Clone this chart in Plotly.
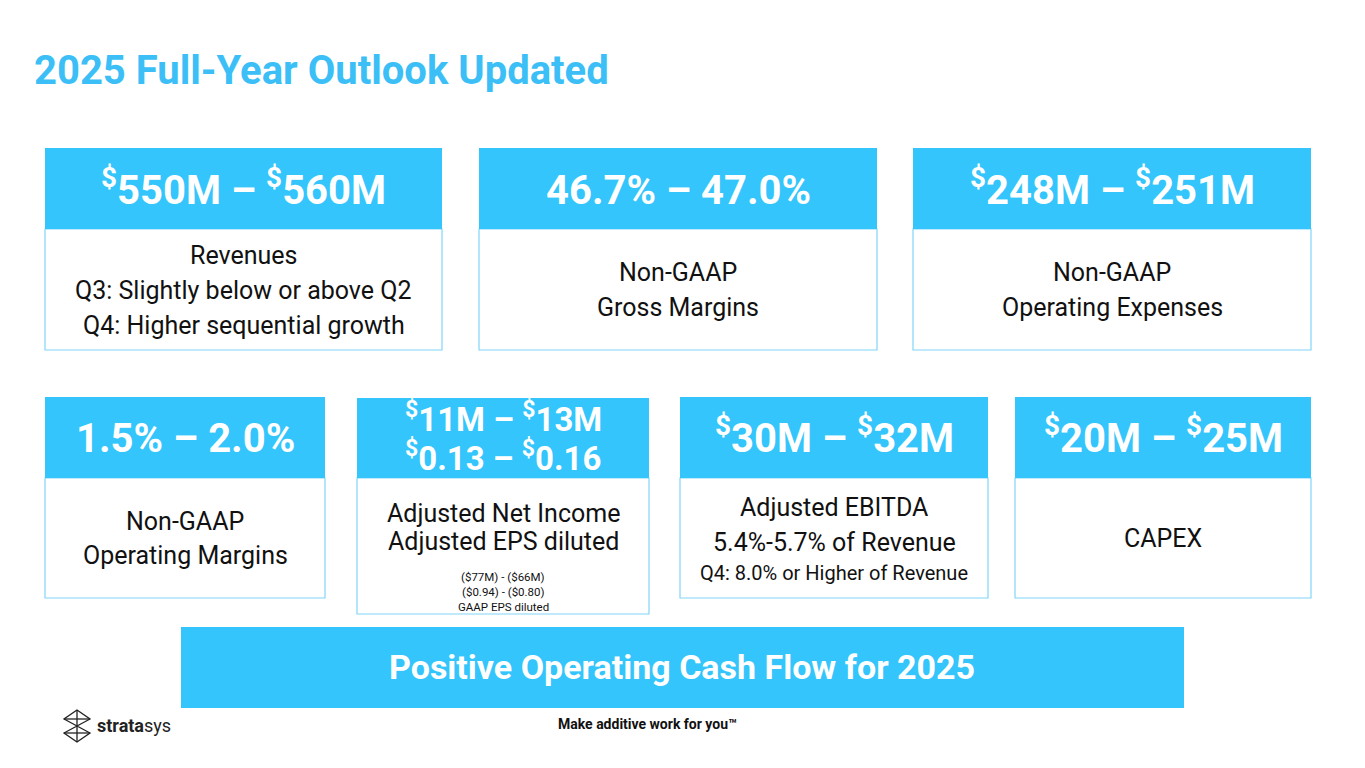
import plotly.graph_objects as go

# slide text
title_text = "2025 Full-Year Outlook Updated"
headlines = [
    ["$550M – $560M"],
    ["46.7% – 47.0%"],
    ["$248M – $251M"],
    ["1.5% – 2.0%"],
    ["$11M – $13M", "$0.13 – $0.16"],
    ["$30M – $32M"],
    ["$20M – $25M"],
]
body_lines = [
    ["Revenues", "Q3: Slightly below or above Q2", "Q4: Higher sequential growth"],
    ["Non-GAAP", "Gross Margins"],
    ["Non-GAAP", "Operating Expenses"],
    ["Non-GAAP", "Operating Margins"],
    ["Adjusted Net Income", "Adjusted EPS diluted",
     "($77M) - ($66M)", "($0.94) - ($0.80)", "GAAP EPS diluted"],
    ["Adjusted EBITDA", "5.4%-5.7% of Revenue", "Q4: 8.0% or Higher of Revenue"],
    ["CAPEX"],
]
banner_text = "Positive Operating Cash Flow for 2025"
tagline = "Make additive work for you™"
brand = ["strata", "sys"]

# geometry (pixels on the 1365x768 slide)
card_x0 = [45, 479, 913, 45, 357, 680, 1015]
card_x1 = [442, 877, 1311, 325, 649, 988, 1311]
head_top = [148, 148, 148, 397, 398, 397, 397]
head_bot = [229, 229, 229, 478, 478, 478, 478]
body_bot = [350, 350, 350, 598, 614, 598, 598]
head_y = [[187], [190], [187], [438], [417, 456], [435], [435]]
head_size = [40, 40, 40, 40, 33, 40, 40]
body_y = [
    [255, 290, 325],
    [272, 307],
    [272, 307],
    [521, 555],
    [513, 541, 577, 592, 607],
    [507, 542, 573],
    [538],
]
body_size = [
    [25, 25, 25],
    [25, 25],
    [25, 25],
    [25, 25],
    [25, 25, 11.5, 11.5, 11.5],
    [25, 25, 20],
    [25],
]

BLUE = "#33C5FC"
TITLE_BLUE = "#3BBFF6"
FONT = "Roboto"
OFF = 8  # page body margin around the plot div


def dollar_sup(s):
    return s.replace("$", "<sup>$</sup>")


fig = go.Figure()
shapes = []
annotations = []

annotations.append(dict(
    x=32, y=70, text="<b>" + title_text + "</b>", showarrow=False,
    xanchor="left", yanchor="middle",
    font=dict(family=FONT, size=40, color=TITLE_BLUE),
))

for i in range(len(headlines)):
    shapes.append(dict(
        type="rect", x0=card_x0[i], x1=card_x1[i], y0=head_bot[i], y1=body_bot[i],
        line=dict(color="#7FD6F8", width=1.2), fillcolor="white", layer="below",
    ))
    shapes.append(dict(
        type="rect", x0=card_x0[i], x1=card_x1[i], y0=head_top[i], y1=head_bot[i],
        line=dict(width=0), fillcolor=BLUE, layer="below",
    ))
    cx = (card_x0[i] + card_x1[i]) / 2
    for line, ly in zip(headlines[i], head_y[i]):
        annotations.append(dict(
            x=cx, y=ly, text="<b>" + dollar_sup(line) + "</b>",
            showarrow=False, xanchor="center", yanchor="middle",
            font=dict(family=FONT, size=head_size[i], color="white"),
        ))
    for line, ly, ls in zip(body_lines[i], body_y[i], body_size[i]):
        annotations.append(dict(
            x=cx, y=ly, text=line, showarrow=False,
            xanchor="center", yanchor="middle",
            font=dict(family=FONT, size=ls, color="#111111"),
        ))

# bottom banner
shapes.append(dict(
    type="rect", x0=181, x1=1184, y0=627, y1=708,
    line=dict(width=0), fillcolor=BLUE, layer="below",
))
annotations.append(dict(
    x=682, y=667, text="<b>" + banner_text + "</b>", showarrow=False,
    font=dict(family=FONT, size=34, color="white"),
))

# footer
annotations.append(dict(
    x=647, y=724, text="<b>" + tagline + "</b>", showarrow=False,
    font=dict(family=FONT, size=14, color="#111111"),
))

# logo mark
shapes.append(dict(
    type="path",
    path="M77,710 L90,719 L64,733 L77,742 L90,733 L64,719 Z",
    line=dict(color="#222222", width=1.3),
))
for seg in [(64, 719, 90, 719), (64, 733, 90, 733), (77, 710, 77, 742)]:
    shapes.append(dict(
        type="line", x0=seg[0], y0=seg[1], x1=seg[2], y1=seg[3],
        line=dict(color="#222222", width=1.3),
    ))
annotations.append(dict(
    x=95, y=725, text="<b>" + brand[0] + "</b>" + brand[1], showarrow=False,
    xanchor="left", yanchor="middle",
    font=dict(family=FONT, size=18, color="#222222"),
))

fig.update_layout(
    width=1365 - OFF, height=768 - OFF,
    margin=dict(l=0, r=0, t=0, b=0),
    paper_bgcolor="white", plot_bgcolor="white",
    xaxis=dict(range=[OFF, 1365], visible=False, fixedrange=True),
    yaxis=dict(range=[768, OFF], visible=False, fixedrange=True),
    shapes=shapes, annotations=annotations,
    showlegend=False,
)

fig.write_html("out.html")
